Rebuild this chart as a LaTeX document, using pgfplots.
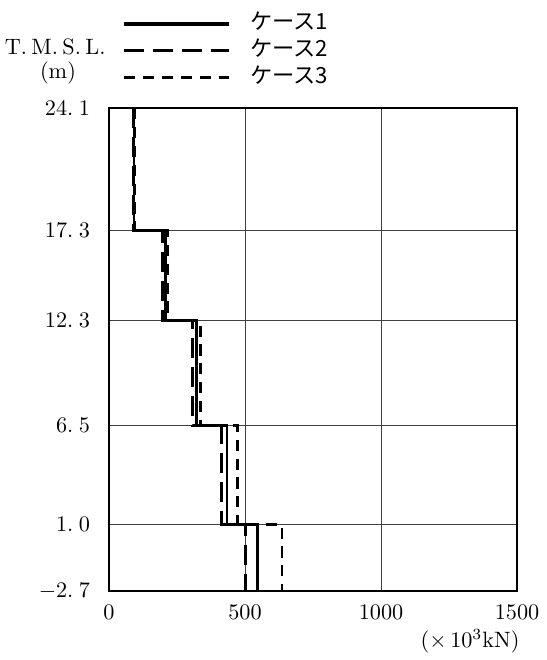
\documentclass[border=0pt]{standalone}
\usepackage{fontspec}
\usepackage{pgfplots}
\pgfplotsset{compat=1.18}
\newfontfamily\jp{Noto Sans CJK JP}
\begin{document}
\begin{tikzpicture}
\useasboundingbox (-49.05pt,-31.05pt) rectangle (197.1pt,265.95pt);
\begin{axis}[
  at={(0pt,0pt)}, anchor=south west, scale only axis,
  width=183.6pt, height=217.35pt,
  xmin=0, xmax=1500, ymin=-2.7, ymax=24.1,
  xtick={0,500,1000,1500},
  xticklabel style={/pgf/number format/1000 sep={}, yshift=-3pt},
  ytick={-2.7,1.0,6.5,12.3,17.3,24.1},
  yticklabels={$-$2.\hspace{0.25em}7,1.\hspace{0.25em}0,6.\hspace{0.25em}5,12.\hspace{0.25em}3,17.\hspace{0.25em}3,24.\hspace{0.25em}1},
  grid=major, major grid style={line width=0.45pt, black!75},
  major tick length=0pt,
  axis line style={line width=1pt},
  yticklabel style={xshift=-5pt},
  legend style={draw=none, fill=none, at={(axis description cs:0.032,1.205)}, anchor=north west,
    inner sep=0pt, row sep=-0.9pt, font=\jp,
    nodes={text height=7pt, text depth=2pt},
    /tikz/every odd column/.append style={column sep=7pt}},
  legend cell align=left,
  legend image code/.code={\draw[#1,line width=1.5pt] (0pt,0pt) -- (47pt,0pt);},
  clip=false,
]
\addplot[black, line width=1.25pt] coordinates {
(92,24.1) (92,17.3) (209,17.3) (209,12.3) (322,12.3) (322,6.5) (434,6.5) (434,1.0) (545,1.0) (545,-2.7)};
\addlegendentry{ケース1}
\addplot[black, line width=1.25pt, dash pattern=on 9pt off 4pt] coordinates {
(90,24.1) (90,17.3) (198,17.3) (198,12.3) (306,12.3) (306,6.5) (415,6.5) (415,1.0) (502,1.0) (502,-2.7)};
\addlegendentry{ケース2}
\addplot[black, line width=1.25pt, dash pattern=on 5pt off 3.5pt] coordinates {
(95,24.1) (95,17.3) (217,17.3) (217,12.3) (337,12.3) (337,6.5) (473,6.5) (473,1.0) (636,1.0) (636,-2.7)};
\addlegendentry{ケース3}
\node at (axis description cs:-0.132,1.126) {T.\hspace{0.2em}M.\hspace{0.2em}S.\hspace{0.2em}L.};
\node at (axis description cs:-0.125,1.072) {(m)};
\node at (axis description cs:0.885,-0.1035) {($\times$\,10$^{3}$kN)};
\end{axis}
\end{tikzpicture}
\end{document}
